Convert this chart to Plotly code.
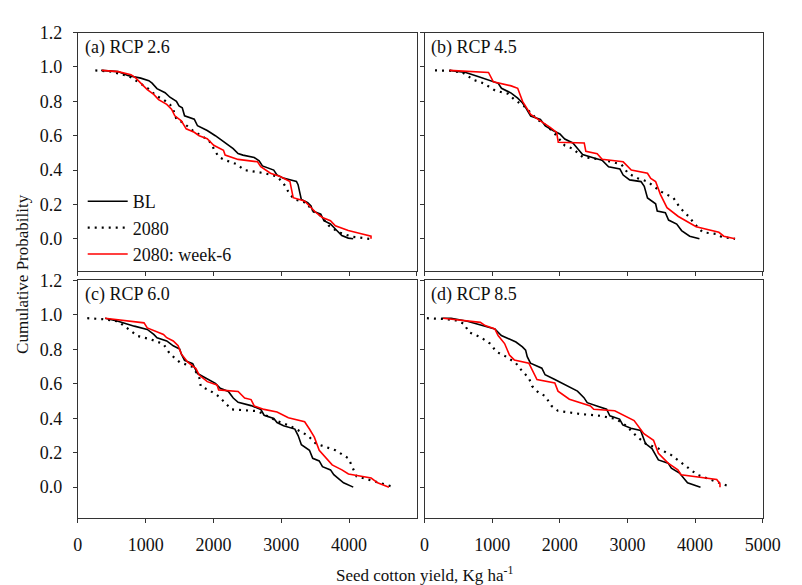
import plotly.graph_objects as go

# ---------------- data (yield kg/ha, cumulative probability) ----------------
a_bl_x = [344, 593, 737, 928, 1047, 1095, 1167, 1287, 1358, 1454, 1492, 1540, 1574, 1717, 1765, 1908, 2028, 2124, 2220, 2291, 2363, 2435, 2602, 2674, 2722, 2889, 2937, 3032, 3128, 3224, 3248, 3296, 3391, 3439, 3463, 3583, 3630, 3726, 3798, 3893, 3989, 4061]
a_bl_y = [0.98, 0.973, 0.95, 0.935, 0.92, 0.906, 0.874, 0.85, 0.824, 0.80, 0.773, 0.763, 0.716, 0.696, 0.658, 0.63, 0.60, 0.573, 0.55, 0.525, 0.496, 0.487, 0.473, 0.454, 0.424, 0.40, 0.372, 0.353, 0.344, 0.334, 0.315, 0.229, 0.21, 0.191, 0.162, 0.143, 0.105, 0.086, 0.057, 0.019, 0.004, 0.0]
a_80_x = [258, 497, 760, 880, 1024, 1167, 1263, 1358, 1406, 1454, 1550, 1693, 1813, 1932, 2004, 2076, 2172, 2339, 2459, 2746, 2937, 3032, 3128, 3200, 3367, 3463, 3583, 3702, 3846, 4037, 4300]
a_80_y = [0.98, 0.973, 0.945, 0.916, 0.878, 0.83, 0.81, 0.782, 0.754, 0.696, 0.677, 0.63, 0.60, 0.573, 0.525, 0.477, 0.458, 0.435, 0.40, 0.382, 0.363, 0.324, 0.258, 0.229, 0.21, 0.162, 0.134, 0.076, 0.038, 0.013, 0.0]
a_w6_x = [354, 593, 784, 856, 928, 1024, 1119, 1191, 1311, 1382, 1430, 1526, 1598, 1717, 1789, 1908, 2004, 2148, 2172, 2363, 2650, 2698, 2841, 2985, 3128, 3176, 3343, 3439, 3511, 3606, 3726, 3798, 3989, 4180, 4324, 4324]
a_w6_y = [0.98, 0.973, 0.955, 0.935, 0.906, 0.868, 0.84, 0.81, 0.782, 0.754, 0.716, 0.687, 0.64, 0.62, 0.60, 0.582, 0.544, 0.515, 0.487, 0.462, 0.448, 0.42, 0.382, 0.363, 0.334, 0.239, 0.22, 0.181, 0.153, 0.124, 0.105, 0.076, 0.048, 0.029, 0.015, 0.0]

b_bl_x = [369, 609, 801, 993, 1089, 1137, 1281, 1377, 1449, 1497, 1569, 1713, 1785, 1905, 2001, 2073, 2193, 2265, 2337, 2529, 2625, 2721, 2889, 2937, 3033, 3201, 3249, 3297, 3417, 3441, 3561, 3609, 3729, 3801, 3921, 4065]
b_bl_y = [0.98, 0.968, 0.943, 0.92, 0.905, 0.876, 0.848, 0.819, 0.79, 0.762, 0.714, 0.695, 0.657, 0.629, 0.61, 0.581, 0.558, 0.524, 0.49, 0.467, 0.457, 0.419, 0.406, 0.371, 0.343, 0.333, 0.305, 0.238, 0.204, 0.162, 0.152, 0.109, 0.086, 0.048, 0.015, 0.0]
b_80_x = [154, 369, 561, 729, 873, 1041, 1233, 1329, 1473, 1569, 1665, 1809, 1929, 2073, 2193, 2337, 2577, 2769, 2913, 3009, 3153, 3297, 3393, 3489, 3681, 3777, 3921, 3993, 4113, 4304, 4400, 4592]
b_80_y = [0.98, 0.978, 0.968, 0.924, 0.905, 0.863, 0.844, 0.81, 0.771, 0.733, 0.695, 0.657, 0.61, 0.543, 0.524, 0.476, 0.463, 0.448, 0.432, 0.381, 0.352, 0.333, 0.305, 0.276, 0.238, 0.181, 0.124, 0.086, 0.038, 0.029, 0.01, 0.0]
b_w6_x = [369, 945, 1017, 1281, 1377, 1449, 1569, 1761, 1857, 1953, 1977, 2361, 2385, 2553, 2625, 2937, 3057, 3297, 3345, 3417, 3489, 3585, 3753, 4017, 4353, 4425, 4592]
b_w6_y = [0.98, 0.968, 0.914, 0.89, 0.876, 0.80, 0.724, 0.676, 0.648, 0.619, 0.562, 0.558, 0.509, 0.495, 0.463, 0.448, 0.40, 0.381, 0.352, 0.333, 0.257, 0.181, 0.13, 0.07, 0.038, 0.015, 0.0]

c_bl_x = [402, 593, 833, 1024, 1120, 1168, 1311, 1407, 1502, 1526, 1574, 1694, 1765, 1885, 2029, 2101, 2220, 2292, 2364, 2555, 2699, 2747, 2890, 2938, 3034, 3201, 3249, 3297, 3416, 3464, 3560, 3608, 3727, 3775, 3919, 4062]
c_bl_y = [0.98, 0.962, 0.934, 0.915, 0.886, 0.867, 0.848, 0.82, 0.801, 0.773, 0.735, 0.716, 0.659, 0.631, 0.602, 0.574, 0.555, 0.517, 0.492, 0.473, 0.451, 0.417, 0.398, 0.375, 0.356, 0.337, 0.299, 0.246, 0.214, 0.167, 0.152, 0.119, 0.10, 0.072, 0.025, 0.0]
c_80_x = [139, 354, 593, 761, 880, 1072, 1263, 1359, 1502, 1694, 1790, 1813, 1933, 2077, 2220, 2268, 2651, 2747, 2938, 3129, 3321, 3393, 3512, 3656, 3799, 3991, 4038, 4110, 4373, 4613]
c_80_y = [0.98, 0.975, 0.962, 0.915, 0.877, 0.858, 0.83, 0.773, 0.725, 0.697, 0.64, 0.583, 0.564, 0.527, 0.47, 0.451, 0.441, 0.422, 0.384, 0.356, 0.318, 0.299, 0.252, 0.233, 0.214, 0.167, 0.129, 0.063, 0.034, 0.006]
c_w6_x = [402, 976, 1024, 1144, 1263, 1311, 1407, 1479, 1526, 1622, 1742, 1790, 1909, 2053, 2077, 2364, 2460, 2555, 2603, 2747, 2938, 3105, 3345, 3416, 3488, 3560, 3680, 3751, 3895, 3991, 4326, 4421, 4589]
c_w6_y = [0.98, 0.953, 0.924, 0.905, 0.886, 0.867, 0.848, 0.82, 0.773, 0.725, 0.688, 0.65, 0.612, 0.593, 0.564, 0.555, 0.517, 0.508, 0.47, 0.451, 0.436, 0.403, 0.379, 0.337, 0.29, 0.214, 0.157, 0.129, 0.10, 0.076, 0.053, 0.025, 0.0]

d_bl_x = [249, 393, 632, 872, 1039, 1135, 1255, 1351, 1447, 1494, 1518, 1566, 1734, 1782, 1926, 2045, 2165, 2261, 2357, 2405, 2548, 2692, 2740, 2884, 2931, 3051, 3195, 3267, 3363, 3458, 3602, 3650, 3770, 3889, 4081]
d_bl_y = [0.98, 0.98, 0.962, 0.937, 0.918, 0.88, 0.861, 0.842, 0.814, 0.795, 0.757, 0.719, 0.69, 0.652, 0.624, 0.601, 0.576, 0.557, 0.519, 0.49, 0.471, 0.452, 0.414, 0.395, 0.361, 0.342, 0.329, 0.253, 0.224, 0.158, 0.139, 0.11, 0.082, 0.025, 0.0]
d_80_x = [34, 297, 489, 584, 656, 824, 968, 1063, 1207, 1351, 1447, 1542, 1590, 1686, 1782, 1878, 1973, 2309, 2596, 2836, 2979, 3123, 3267, 3458, 3650, 3842, 4033, 4225, 4536]
d_80_y = [0.98, 0.975, 0.966, 0.947, 0.899, 0.871, 0.833, 0.785, 0.757, 0.719, 0.671, 0.633, 0.586, 0.548, 0.529, 0.471, 0.443, 0.424, 0.414, 0.395, 0.357, 0.30, 0.253, 0.224, 0.186, 0.129, 0.072, 0.044, 0.0]
d_w6_x = [273, 824, 896, 1039, 1087, 1183, 1255, 1327, 1542, 1662, 1926, 1973, 2141, 2453, 2501, 2812, 3099, 3243, 3386, 3458, 3602, 3746, 3794, 4321, 4369, 4369]
d_w6_y = [0.98, 0.956, 0.937, 0.918, 0.88, 0.833, 0.766, 0.738, 0.719, 0.624, 0.605, 0.557, 0.51, 0.471, 0.452, 0.443, 0.386, 0.31, 0.272, 0.196, 0.139, 0.101, 0.072, 0.044, 0.019, 0.0]

panel_labels = ["(a) RCP 2.6", "(b) RCP 4.5", "(c) RCP 6.0", "(d) RCP 8.5"]
series_names = ["BL", "2080", "2080: week-6"]
y_ticks = [0.0, 0.2, 0.4, 0.6, 0.8, 1.0, 1.2]
x_ticks_left = [0, 1000, 2000, 3000, 4000]
x_ticks_right = [0, 1000, 2000, 3000, 4000, 5000]

panels = [
    (a_bl_x, a_bl_y, a_80_x, a_80_y, a_w6_x, a_w6_y),
    (b_bl_x, b_bl_y, b_80_x, b_80_y, b_w6_x, b_w6_y),
    (c_bl_x, c_bl_y, c_80_x, c_80_y, c_w6_x, c_w6_y),
    (d_bl_x, d_bl_y, d_80_x, d_80_y, d_w6_x, d_w6_y),
]

W, H = 802, 585
FONT = "Liberation Serif, Times New Roman, serif"
AXC = "#333333"
TXT = "#111111"

# panel pixel boxes (left, right, top, bottom)
boxes = [(75, 424, 23, 266), (432, 780, 23, 266), (75, 424, 275, 517), (432, 780, 275, 517)]
yranges = [(-0.19, 1.2), (-0.19, 1.2), (-0.18, 1.2), (-0.18, 1.2)]

fig = go.Figure()
styles = [dict(color="black", width=1.6),
          dict(color="black", width=2.2, dash="2px,5px"),
          dict(color="#ff0000", width=1.6)]

axes_layout = {}
for i, p in enumerate(panels):
    xs = [p[0], p[2], p[4]]
    ys = [p[1], p[3], p[5]]
    xa = "x" if i == 0 else f"x{i+1}"
    ya = "y" if i == 0 else f"y{i+1}"
    for k in range(3):
        fig.add_trace(go.Scatter(x=xs[k], y=ys[k], mode="lines", line=styles[k],
                                 name=series_names[k], showlegend=(i == 0),
                                 xaxis=xa, yaxis=ya))
    l, r, t, b = boxes[i]
    xkey = "xaxis" if i == 0 else f"xaxis{i+1}"
    ykey = "yaxis" if i == 0 else f"yaxis{i+1}"
    bottom = i >= 2
    left = i % 2 == 0
    axes_layout[xkey] = dict(
        domain=[l / W, r / W], range=[0, 5000], anchor=ya,
        tickmode="array",
        tickvals=(x_ticks_left if left else x_ticks_right) if bottom else x_ticks_right,
        showticklabels=bottom, ticks="outside", ticklen=4, tickcolor=AXC,
        showline=True, linecolor=AXC, linewidth=1, mirror=True, showgrid=False,
        zeroline=False, ticklabelstandoff=6,
        tickfont=dict(family=FONT, size=18, color=TXT))
    axes_layout[ykey] = dict(
        domain=[1 - b / H, 1 - t / H], range=list(yranges[i]), anchor=xa,
        tickmode="array", tickvals=y_ticks, tickformat=".1f", showticklabels=left,
        ticks="outside", ticklen=4, tickcolor=AXC,
        showline=True, linecolor=AXC, linewidth=1, mirror=True, showgrid=False,
        zeroline=False, ticklabelstandoff=7,
        tickfont=dict(family=FONT, size=18, color=TXT))
    fig.add_annotation(text=panel_labels[i], x=(l + 5) / W, y=1 - (t + 2) / H,
                       xref="paper", yref="paper", xanchor="left", yanchor="top",
                       showarrow=False, font=dict(family=FONT, size=18, color=TXT))

fig.add_annotation(text="Cumulative Probability", x=18 / W, y=1 - 268 / H,
                   xref="paper", yref="paper", xanchor="center", yanchor="middle",
                   textangle=-90, showarrow=False,
                   font=dict(family=FONT, size=17, color=TXT))
fig.add_annotation(text="Seed cotton yield, Kg ha<sup>-1</sup>", x=432 / W, y=1 - 574 / H,
                   xref="paper", yref="paper", xanchor="center", yanchor="middle",
                   showarrow=False,
                   font=dict(family=FONT, size=17, color=TXT))

fig.update_layout(
    width=W, height=H, margin=dict(l=0, r=0, t=0, b=0),
    paper_bgcolor="white", plot_bgcolor="white",
    font=dict(family=FONT, size=18, color=TXT),
    legend=dict(x=80 / W, y=1 - 176 / H, xanchor="left", yanchor="top",
                bgcolor="rgba(0,0,0,0)", font=dict(family=FONT, size=18, color=TXT),
                tracegroupgap=0, itemwidth=40),
    **axes_layout,
)

fig.write_html("out.html")
